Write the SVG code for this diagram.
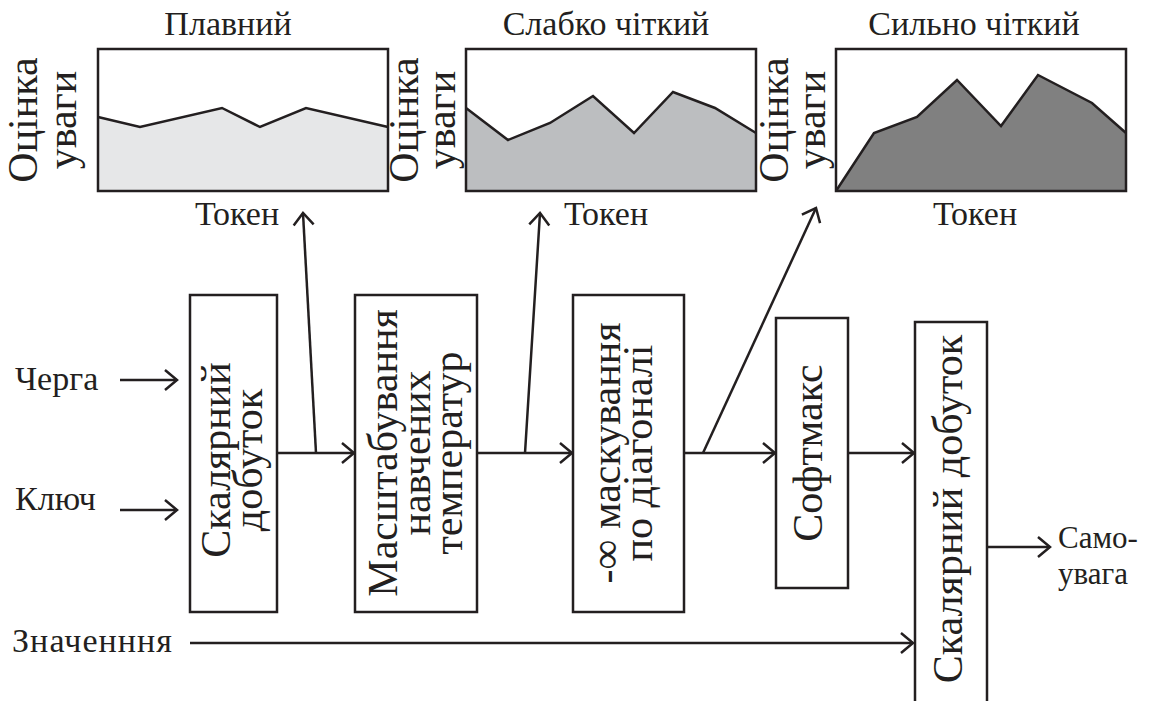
<svg xmlns="http://www.w3.org/2000/svg" width="1164" height="701" viewBox="0 0 1164 701">
<style>
text{font-family:"Liberation Serif","Times New Roman",serif;fill:#231f20}
.t{font-size:34px}
.o{font-size:31px}
.v{font-size:42px;text-anchor:middle}
.ttl{font-size:34px;text-anchor:middle}
.box{fill:#fff;stroke:#231f20;stroke-width:2.5}
.frame{fill:none;stroke:#231f20;stroke-width:2.5}
.curve{fill:none;stroke:#231f20;stroke-width:2.5;stroke-linejoin:miter}
.c{fill:none;stroke:#231f20;stroke-width:2.5}
</style>
<defs>
<marker id="ah" markerUnits="userSpaceOnUse" markerWidth="30" markerHeight="30" viewBox="-15 -15 30 30" refX="0" refY="0" orient="auto">
<path d="M-12,-10 L0,0 L-12,10" fill="none" stroke="#231f20" stroke-width="2.5"/>
</marker>
</defs>
<rect width="1164" height="701" fill="#fff"/>

<g id="chart1">
<rect x="98" y="49" width="290" height="142" fill="#fff"/>
<polygon points="98,117 140,127 222,108 260,127 306,108 388,127 388,191 98,191" fill="#e6e7e8"/>
<polyline class="curve" points="98,117 140,127 222,108 260,127 306,108 388,127"/>
<rect class="frame" x="98" y="49" width="290" height="142"/>
<text class="ttl" x="228" y="35">Плавний</text>
<text class="ttl" x="237" y="225">Токен</text>
<text class="v" transform="translate(37,120) rotate(-90)">Оцінка</text>
<text class="v" transform="translate(76,120) rotate(-90)">уваги</text>
</g>

<g id="chart2">
<rect x="466" y="49" width="290" height="142" fill="#fff"/>
<polygon points="466,108 508,140 550,123 593,96 634,133 673,92 715,108 756,133 756,191 466,191" fill="#bcbec0"/>
<polyline class="curve" points="466,108 508,140 550,123 593,96 634,133 673,92 715,108 756,133"/>
<rect class="frame" x="466" y="49" width="290" height="142"/>
<text class="ttl" x="606" y="35">Слабко чіткий</text>
<text class="ttl" x="606" y="225">Токен</text>
<text class="v" transform="translate(418,120) rotate(-90)">Оцінка</text>
<text class="v" transform="translate(455,120) rotate(-90)">уваги</text>
</g>

<g id="chart3">
<rect x="836" y="49" width="290" height="142" fill="#fff"/>
<polygon points="836,191 874,133 917,117 957,80 1001,126 1038,75 1092,103 1126,133 1126,191" fill="#808080"/>
<polyline class="curve" points="836,191 874,133 917,117 957,80 1001,126 1038,75 1092,103 1126,133"/>
<rect class="frame" x="836" y="49" width="290" height="142"/>
<text class="ttl" x="974" y="35">Сильно чіткий</text>
<text class="ttl" x="975" y="225">Токен</text>
<text class="v" transform="translate(788,120) rotate(-90)">Оцінка</text>
<text class="v" transform="translate(825,120) rotate(-90)">уваги</text>
</g>

<g id="inputs">
<text class="t" x="15" y="390">Черга</text>
<text class="t" x="15" y="510">Ключ</text>
<text class="t" x="12" y="652" textLength="160">Значенння</text>
</g>

<g id="node-dot1">
<rect class="box" x="190" y="295" width="87" height="317"/>
<text class="v" transform="translate(230,460) rotate(-90)">Скалярний</text>
<text class="v" transform="translate(262,460) rotate(-90)">добуток</text>
</g>

<g id="node-scale">
<rect class="box" x="355" y="295" width="122" height="317"/>
<text class="v" transform="translate(397,453) rotate(-90)">Масштабування</text>
<text class="v" transform="translate(430,453) rotate(-90)">навчених</text>
<text class="v" transform="translate(462,453) rotate(-90)">температур</text>
</g>

<g id="node-mask">
<rect class="box" x="573" y="295" width="111" height="317"/>
<text class="v" transform="translate(620,453) rotate(-90)">-∞ маскування</text>
<text class="v" transform="translate(652,453) rotate(-90)">по діагоналі</text>
</g>

<g id="node-softmax">
<rect class="box" x="776" y="318" width="72" height="270"/>
<text class="v" transform="translate(822,453) rotate(-90)">Софтмакс</text>
</g>

<g id="node-dot2">
<rect class="box" x="915" y="322" width="72" height="390"/>
<text class="v" transform="translate(962,509) rotate(-90)">Скалярний добуток</text>
</g>

<g id="output">
<text class="o" x="1058" y="548">Само-</text>
<text class="o" x="1058" y="584">увага</text>
</g>

<g id="connectors">
<line class="c" x1="120" y1="380" x2="177" y2="380" marker-end="url(#ah)"/>
<line class="c" x1="120" y1="510" x2="177" y2="510" marker-end="url(#ah)"/>
<line class="c" x1="277" y1="453" x2="354" y2="453" marker-end="url(#ah)"/>
<line class="c" x1="316" y1="453" x2="303" y2="213" marker-end="url(#ah)"/>
<line class="c" x1="477" y1="453" x2="572" y2="453" marker-end="url(#ah)"/>
<line class="c" x1="525" y1="453" x2="540" y2="213" marker-end="url(#ah)"/>
<line class="c" x1="684" y1="453" x2="775" y2="453" marker-end="url(#ah)"/>
<line class="c" x1="703" y1="453" x2="816" y2="208" marker-end="url(#ah)"/>
<line class="c" x1="848" y1="453" x2="914" y2="453" marker-end="url(#ah)"/>
<line class="c" x1="190" y1="643" x2="913" y2="643" marker-end="url(#ah)"/>
<line class="c" x1="987" y1="547" x2="1050" y2="547" marker-end="url(#ah)"/>
</g>
</svg>
